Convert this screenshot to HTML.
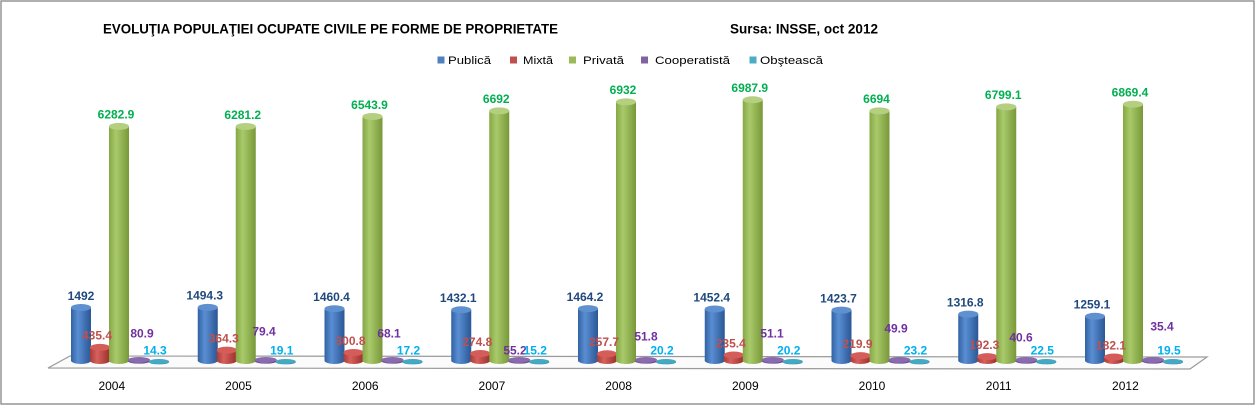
<!DOCTYPE html>
<html>
<head>
<meta charset="utf-8">
<style>
html,body{margin:0;padding:0;background:#fff;}
svg{display:block;}
text{font-family:"Liberation Sans",Arial,sans-serif;}
.lb{font-size:12px;font-weight:bold;text-anchor:middle;}
.cat{font-size:12px;text-anchor:middle;fill:#000;}
.lg{font-size:11px;fill:#000;}
</style>
</head>
<body>
<svg width="1256" height="418" viewBox="0 0 1256 418" xmlns="http://www.w3.org/2000/svg">
<defs>
<linearGradient id="gB" x1="0" y1="0" x2="1" y2="0">
<stop offset="0" stop-color="#3162a2"/><stop offset="0.35" stop-color="#5a8ed3"/><stop offset="1" stop-color="#2a5795"/>
</linearGradient>
<linearGradient id="gR" x1="0" y1="0" x2="1" y2="0">
<stop offset="0" stop-color="#a83c39"/><stop offset="0.35" stop-color="#d6605c"/><stop offset="1" stop-color="#9a302d"/>
</linearGradient>
<linearGradient id="gG" x1="0" y1="0" x2="1" y2="0">
<stop offset="0" stop-color="#86a744"/><stop offset="0.35" stop-color="#a9ca6b"/><stop offset="1" stop-color="#789838"/>
</linearGradient>
<linearGradient id="gP" x1="0" y1="0" x2="1" y2="0">
<stop offset="0" stop-color="#6a4b8e"/><stop offset="0.4" stop-color="#8a6bb0"/><stop offset="1" stop-color="#5f4283"/>
</linearGradient>
<linearGradient id="gC" x1="0" y1="0" x2="1" y2="0">
<stop offset="0" stop-color="#2b8aa3"/><stop offset="0.4" stop-color="#45aac4"/><stop offset="1" stop-color="#257d95"/>
</linearGradient>
</defs>

<rect x="0" y="0" width="1256" height="418" fill="#fff"/>
<rect x="1" y="1" width="1253" height="403" fill="none" stroke="#868686" stroke-width="1.3"/>

<!-- Title -->
<text x="103" y="33.5" font-size="13.5" font-weight="bold" fill="#000" textLength="455" lengthAdjust="spacingAndGlyphs">EVOLUŢIA POPULAŢIEI OCUPATE CIVILE PE FORME DE PROPRIETATE</text>
<text x="730" y="33.5" font-size="13.5" font-weight="bold" fill="#000" textLength="148" lengthAdjust="spacingAndGlyphs">Sursa: INSSE, oct 2012</text>

<!-- Legend -->
<rect x="437.5" y="56.5" width="7" height="7" fill="#4f81bd"/>
<text class="lg" x="448" y="64" textLength="43" lengthAdjust="spacingAndGlyphs">Publică</text>
<rect x="510" y="56.5" width="7" height="7" fill="#c0504d"/>
<text class="lg" x="523" y="64" textLength="30" lengthAdjust="spacingAndGlyphs">Mixtă</text>
<rect x="569" y="56.5" width="7" height="7" fill="#9bbb59"/>
<text class="lg" x="583" y="64" textLength="41" lengthAdjust="spacingAndGlyphs">Privată</text>
<rect x="641" y="56.5" width="7" height="7" fill="#8064a2"/>
<text class="lg" x="655" y="64" textLength="75" lengthAdjust="spacingAndGlyphs">Cooperatistă</text>
<rect x="749.5" y="56.5" width="7" height="7" fill="#4bacc6"/>
<text class="lg" x="760" y="64" textLength="63" lengthAdjust="spacingAndGlyphs">Obştească</text>

<!-- Floor -->
<polygon points="70,356 1207,357 1190,369 48,368" fill="#fbfbfb" stroke="#9a9a9a" stroke-width="1.2"/>

<!-- Groups -->
<g transform="translate(71,0)">
<ellipse cx="10" cy="360.5" rx="10" ry="3.5" fill="url(#gB)"/><rect x="0" y="307.5" width="20" height="53" fill="url(#gB)"/><ellipse cx="10" cy="307.5" rx="10" ry="3.5" fill="#5f90d0"/>
<ellipse cx="29" cy="360.5" rx="10" ry="3.5" fill="url(#gR)"/><rect x="19" y="347.4" width="20" height="13.1" fill="url(#gR)"/><ellipse cx="29" cy="347.4" rx="10" ry="3.5" fill="#d55d59"/>
<ellipse cx="48" cy="360.5" rx="10" ry="3.5" fill="url(#gG)"/><rect x="38" y="126.4" width="20" height="234.1" fill="url(#gG)"/><ellipse cx="48" cy="126.4" rx="10" ry="3.5" fill="#b3cf7f"/>
<ellipse cx="68" cy="361" rx="11" ry="2.8" fill="url(#gP)"/><ellipse cx="68" cy="359.8" rx="11" ry="2.8" fill="#8a6bb0"/>
<ellipse cx="88" cy="362" rx="10" ry="2.4" fill="url(#gC)"/><ellipse cx="88" cy="361.4" rx="10" ry="2.4" fill="#45a9c3"/>
</g>
<g transform="translate(197.75,0)">
<ellipse cx="10" cy="360.5" rx="10" ry="3.5" fill="url(#gB)"/><rect x="0" y="307.4" width="20" height="53.1" fill="url(#gB)"/><ellipse cx="10" cy="307.4" rx="10" ry="3.5" fill="#5f90d0"/>
<ellipse cx="29" cy="360.5" rx="10" ry="3.5" fill="url(#gR)"/><rect x="19" y="350.1" width="20" height="10.4" fill="url(#gR)"/><ellipse cx="29" cy="350.1" rx="10" ry="3.5" fill="#d55d59"/>
<ellipse cx="48" cy="360.5" rx="10" ry="3.5" fill="url(#gG)"/><rect x="38" y="126.5" width="20" height="234" fill="url(#gG)"/><ellipse cx="48" cy="126.5" rx="10" ry="3.5" fill="#b3cf7f"/>
<ellipse cx="68" cy="361" rx="11" ry="2.8" fill="url(#gP)"/><ellipse cx="68" cy="359.8" rx="11" ry="2.8" fill="#8a6bb0"/>
<ellipse cx="88" cy="362" rx="10" ry="2.4" fill="url(#gC)"/><ellipse cx="88" cy="361.4" rx="10" ry="2.4" fill="#45a9c3"/>
</g>
<g transform="translate(324.5,0)">
<ellipse cx="10" cy="360.5" rx="10" ry="3.5" fill="url(#gB)"/><rect x="0" y="308.7" width="20" height="51.8" fill="url(#gB)"/><ellipse cx="10" cy="308.7" rx="10" ry="3.5" fill="#5f90d0"/>
<ellipse cx="29" cy="360.5" rx="10" ry="3.5" fill="url(#gR)"/><rect x="19" y="352.5" width="20" height="8" fill="url(#gR)"/><ellipse cx="29" cy="352.5" rx="10" ry="3.5" fill="#d55d59"/>
<ellipse cx="48" cy="360.5" rx="10" ry="3.5" fill="url(#gG)"/><rect x="38" y="116.5" width="20" height="244" fill="url(#gG)"/><ellipse cx="48" cy="116.5" rx="10" ry="3.5" fill="#b3cf7f"/>
<ellipse cx="68" cy="361" rx="11" ry="2.8" fill="url(#gP)"/><ellipse cx="68" cy="359.8" rx="11" ry="2.8" fill="#8a6bb0"/>
<ellipse cx="88" cy="362" rx="10" ry="2.4" fill="url(#gC)"/><ellipse cx="88" cy="361.4" rx="10" ry="2.4" fill="#45a9c3"/>
</g>
<g transform="translate(451.25,0)">
<ellipse cx="10" cy="360.5" rx="10" ry="3.5" fill="url(#gB)"/><rect x="0" y="309.8" width="20" height="50.7" fill="url(#gB)"/><ellipse cx="10" cy="309.8" rx="10" ry="3.5" fill="#5f90d0"/>
<ellipse cx="29" cy="360.5" rx="10" ry="3.5" fill="url(#gR)"/><rect x="19" y="353.5" width="20" height="7" fill="url(#gR)"/><ellipse cx="29" cy="353.5" rx="10" ry="3.5" fill="#d55d59"/>
<ellipse cx="48" cy="360.5" rx="10" ry="3.5" fill="url(#gG)"/><rect x="38" y="110.9" width="20" height="249.6" fill="url(#gG)"/><ellipse cx="48" cy="110.9" rx="10" ry="3.5" fill="#b3cf7f"/>
<ellipse cx="68" cy="361" rx="11" ry="2.8" fill="url(#gP)"/><ellipse cx="68" cy="359.8" rx="11" ry="2.8" fill="#8a6bb0"/>
<ellipse cx="88" cy="362" rx="10" ry="2.4" fill="url(#gC)"/><ellipse cx="88" cy="361.4" rx="10" ry="2.4" fill="#45a9c3"/>
</g>
<g transform="translate(578,0)">
<ellipse cx="10" cy="360.5" rx="10" ry="3.5" fill="url(#gB)"/><rect x="0" y="308.6" width="20" height="51.9" fill="url(#gB)"/><ellipse cx="10" cy="308.6" rx="10" ry="3.5" fill="#5f90d0"/>
<ellipse cx="29" cy="360.5" rx="10" ry="3.5" fill="url(#gR)"/><rect x="19" y="353.8" width="20" height="6.7" fill="url(#gR)"/><ellipse cx="29" cy="353.8" rx="10" ry="3.5" fill="#d55d59"/>
<ellipse cx="48" cy="360.5" rx="10" ry="3.5" fill="url(#gG)"/><rect x="38" y="101.9" width="20" height="258.6" fill="url(#gG)"/><ellipse cx="48" cy="101.9" rx="10" ry="3.5" fill="#b3cf7f"/>
<ellipse cx="68" cy="361" rx="11" ry="2.8" fill="url(#gP)"/><ellipse cx="68" cy="359.8" rx="11" ry="2.8" fill="#8a6bb0"/>
<ellipse cx="88" cy="362" rx="10" ry="2.4" fill="url(#gC)"/><ellipse cx="88" cy="361.4" rx="10" ry="2.4" fill="#45a9c3"/>
</g>
<g transform="translate(704.75,0)">
<ellipse cx="10" cy="360.5" rx="10" ry="3.5" fill="url(#gB)"/><rect x="0" y="309" width="20" height="51.5" fill="url(#gB)"/><ellipse cx="10" cy="309" rx="10" ry="3.5" fill="#5f90d0"/>
<ellipse cx="29" cy="360.5" rx="10" ry="3.5" fill="url(#gR)"/><rect x="19" y="355" width="20" height="5.5" fill="url(#gR)"/><ellipse cx="29" cy="355" rx="10" ry="3.5" fill="#d55d59"/>
<ellipse cx="48" cy="360.5" rx="10" ry="3.5" fill="url(#gG)"/><rect x="38" y="99.8" width="20" height="260.7" fill="url(#gG)"/><ellipse cx="48" cy="99.8" rx="10" ry="3.5" fill="#b3cf7f"/>
<ellipse cx="68" cy="361" rx="11" ry="2.8" fill="url(#gP)"/><ellipse cx="68" cy="359.8" rx="11" ry="2.8" fill="#8a6bb0"/>
<ellipse cx="88" cy="362" rx="10" ry="2.4" fill="url(#gC)"/><ellipse cx="88" cy="361.4" rx="10" ry="2.4" fill="#45a9c3"/>
</g>
<g transform="translate(831.5,0)">
<ellipse cx="10" cy="360.5" rx="10" ry="3.5" fill="url(#gB)"/><rect x="0" y="310.1" width="20" height="50.4" fill="url(#gB)"/><ellipse cx="10" cy="310.1" rx="10" ry="3.5" fill="#5f90d0"/>
<ellipse cx="29" cy="360.5" rx="10" ry="3.5" fill="url(#gR)"/><rect x="19" y="355.6" width="20" height="4.9" fill="url(#gR)"/><ellipse cx="29" cy="355.6" rx="10" ry="3.5" fill="#d55d59"/>
<ellipse cx="48" cy="360.5" rx="10" ry="3.5" fill="url(#gG)"/><rect x="38" y="110.9" width="20" height="249.6" fill="url(#gG)"/><ellipse cx="48" cy="110.9" rx="10" ry="3.5" fill="#b3cf7f"/>
<ellipse cx="68" cy="361" rx="11" ry="2.8" fill="url(#gP)"/><ellipse cx="68" cy="359.8" rx="11" ry="2.8" fill="#8a6bb0"/>
<ellipse cx="88" cy="362" rx="10" ry="2.4" fill="url(#gC)"/><ellipse cx="88" cy="361.4" rx="10" ry="2.4" fill="#45a9c3"/>
</g>
<g transform="translate(958.25,0)">
<ellipse cx="10" cy="360.5" rx="10" ry="3.5" fill="url(#gB)"/><rect x="0" y="314.1" width="20" height="46.4" fill="url(#gB)"/><ellipse cx="10" cy="314.1" rx="10" ry="3.5" fill="#5f90d0"/>
<ellipse cx="29" cy="360.5" rx="10" ry="3.5" fill="url(#gR)"/><rect x="19" y="356.6" width="20" height="3.9" fill="url(#gR)"/><ellipse cx="29" cy="356.6" rx="10" ry="3.5" fill="#d55d59"/>
<ellipse cx="48" cy="360.5" rx="10" ry="3.5" fill="url(#gG)"/><rect x="38" y="106.9" width="20" height="253.6" fill="url(#gG)"/><ellipse cx="48" cy="106.9" rx="10" ry="3.5" fill="#b3cf7f"/>
<ellipse cx="68" cy="361" rx="11" ry="2.8" fill="url(#gP)"/><ellipse cx="68" cy="359.8" rx="11" ry="2.8" fill="#8a6bb0"/>
<ellipse cx="88" cy="362" rx="10" ry="2.4" fill="url(#gC)"/><ellipse cx="88" cy="361.4" rx="10" ry="2.4" fill="#45a9c3"/>
</g>
<g transform="translate(1085,0)">
<ellipse cx="10" cy="360.5" rx="10" ry="3.5" fill="url(#gB)"/><rect x="0" y="316.3" width="20" height="44.2" fill="url(#gB)"/><ellipse cx="10" cy="316.3" rx="10" ry="3.5" fill="#5f90d0"/>
<ellipse cx="29" cy="360.5" rx="10" ry="3.5" fill="url(#gR)"/><rect x="19" y="357" width="20" height="3.5" fill="url(#gR)"/><ellipse cx="29" cy="357" rx="10" ry="3.5" fill="#d55d59"/>
<ellipse cx="48" cy="360.5" rx="10" ry="3.5" fill="url(#gG)"/><rect x="38" y="104.2" width="20" height="256.3" fill="url(#gG)"/><ellipse cx="48" cy="104.2" rx="10" ry="3.5" fill="#b3cf7f"/>
<ellipse cx="68" cy="361" rx="11" ry="2.8" fill="url(#gP)"/><ellipse cx="68" cy="359.8" rx="11" ry="2.8" fill="#8a6bb0"/>
<ellipse cx="88" cy="362" rx="10" ry="2.4" fill="url(#gC)"/><ellipse cx="88" cy="361.4" rx="10" ry="2.4" fill="#45a9c3"/>
</g>

<!-- Publică labels -->
<g class="lb" fill="#1f497d">
<text class="lb" x="81" y="299.8">1492</text>
<text class="lb" x="204.75" y="299.7">1494.3</text>
<text class="lb" x="331.5" y="301">1460.4</text>
<text class="lb" x="458.25" y="302.1">1432.1</text>
<text class="lb" x="585" y="300.9">1464.2</text>
<text class="lb" x="711.75" y="301.3">1452.4</text>
<text class="lb" x="838.5" y="302.4">1423.7</text>
<text class="lb" x="965.25" y="306.4">1316.8</text>
<text class="lb" x="1092" y="308.6">1259.1</text>
</g>
<!-- Mixtă labels -->
<g fill="#c0504d">
<text class="lb" x="97" y="339.7">435.4</text>
<text class="lb" x="223.75" y="342.4">364.3</text>
<text class="lb" x="350.5" y="344.8">300.8</text>
<text class="lb" x="477.25" y="345.8">274.8</text>
<text class="lb" x="604" y="346.1">257.7</text>
<text class="lb" x="730.75" y="347.3">235.4</text>
<text class="lb" x="857.5" y="347.9">219.9</text>
<text class="lb" x="984.25" y="348.9">192.3</text>
<text class="lb" x="1111" y="349.3">182.1</text>
</g>
<!-- Privată labels -->
<g fill="#00b050">
<text class="lb" x="116" y="118.7">6282.9</text>
<text class="lb" x="242.75" y="118.8">6281.2</text>
<text class="lb" x="369.5" y="108.8">6543.9</text>
<text class="lb" x="496.25" y="103.2">6692</text>
<text class="lb" x="623" y="94.2">6932</text>
<text class="lb" x="749.75" y="92.1">6987.9</text>
<text class="lb" x="876.5" y="103.2">6694</text>
<text class="lb" x="1003.25" y="99.2">6799.1</text>
<text class="lb" x="1130" y="96.5">6869.4</text>
</g>
<!-- Cooperatistă labels -->
<g fill="#7030a0">
<text class="lb" x="142" y="337.3">80.9</text>
<text class="lb" x="264" y="335.3">79.4</text>
<text class="lb" x="389" y="337.3">68.1</text>
<text class="lb" x="515" y="354.3">55.2</text>
<text class="lb" x="646" y="340.3">51.8</text>
<text class="lb" x="772" y="337.3">51.1</text>
<text class="lb" x="896" y="332.3">49.9</text>
<text class="lb" x="1021" y="341.3">40.6</text>
<text class="lb" x="1162" y="330.3">35.4</text>
</g>
<!-- Obştească labels -->
<g fill="#00b0f0">
<text class="lb" x="155" y="354.5">14.3</text>
<text class="lb" x="281.75" y="354.5">19.1</text>
<text class="lb" x="408.5" y="354.5">17.2</text>
<text class="lb" x="535.25" y="354.5">15.2</text>
<text class="lb" x="662" y="354.5">20.2</text>
<text class="lb" x="788.75" y="354.5">20.2</text>
<text class="lb" x="915.5" y="354.5">23.2</text>
<text class="lb" x="1042.25" y="354.5">22.5</text>
<text class="lb" x="1169" y="354.5">19.5</text>
</g>

<!-- Category labels -->
<text class="cat" x="111.8" y="390">2004</text>
<text class="cat" x="238.5" y="390">2005</text>
<text class="cat" x="365.2" y="390">2006</text>
<text class="cat" x="491.9" y="390">2007</text>
<text class="cat" x="618.6" y="390">2008</text>
<text class="cat" x="745.3" y="390">2009</text>
<text class="cat" x="872" y="390">2010</text>
<text class="cat" x="998.7" y="390">2011</text>
<text class="cat" x="1125.4" y="390">2012</text>
</svg>
</body>
</html>
